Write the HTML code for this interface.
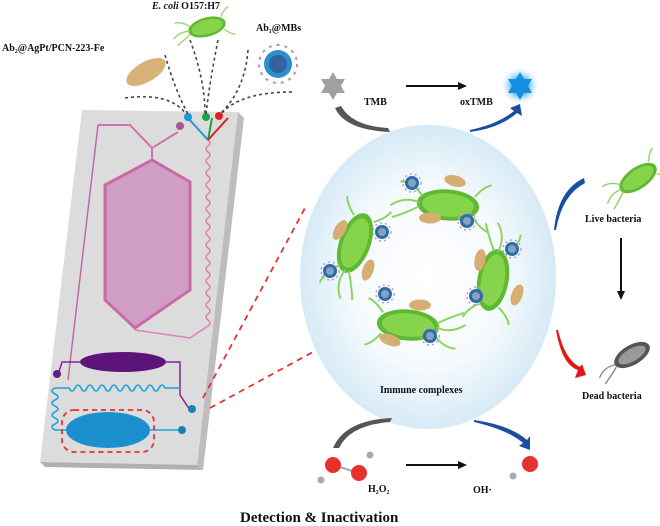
<!DOCTYPE html>
<html><head><style>
html,body{margin:0;padding:0;background:#fff;width:660px;height:526px;overflow:hidden}
text{font-family:"Liberation Serif",serif;font-weight:bold;fill:#111}
</style></head><body>
<svg width="660" height="526" viewBox="0 0 660 526" xmlns="http://www.w3.org/2000/svg">
<defs>
<radialGradient id="bub" cx="50%" cy="50%" r="50%">
<stop offset="0" stop-color="#fff"/><stop offset="0.6" stop-color="#f5fafd"/><stop offset="1" stop-color="#d6eaf6"/>
</radialGradient>
<radialGradient id="glow"><stop offset="0.4" stop-color="#5ab8f5"/><stop offset="1" stop-color="#fff" stop-opacity="0"/></radialGradient>
<g id="bac"><ellipse rx="24" ry="12" fill="#5fb834"/><ellipse rx="20" ry="9" fill="#85d44c"/>
<path d="M-22,0 q-12,-4 -22,4 M-22,3 q-10,6 -20,10 M-20,-5 q-8,-10 -18,-10 M20,-8 q6,-8 12,-10 M20,8 q6,8 12,10" stroke="#8bd45a" stroke-width="1.5" fill="none"/></g>
<g id="mb"><circle r="7" fill="#2a6fa8"/><circle r="4" fill="#8aa0c0"/><circle r="9" fill="none" stroke="#c59ad0" stroke-width="1.5" stroke-dasharray="2 3"/></g>
<g id="nz"><ellipse rx="11" ry="5.5" fill="#d6ae73"/></g>
</defs>

<!-- chip -->
<polygon points="82,110 238,112 197,465 40,462" fill="#dcdcdc"/>
<polygon points="238,112 244,118 203,470 197,465" fill="#bdbdbd"/>
<polygon points="40,462 197,465 203,470 45,467" fill="#b0b0b0"/>

<!-- pink channels -->
<path d="M98,125 L130,125 L152,148 L178,132 M152,148 L152,160" fill="none" stroke="#d272ad" stroke-width="2"/>
<polygon points="105,185 152,160 190,182 190,290 135,328 105,300" fill="#d09ec4" stroke="#c96aa6" stroke-width="3"/>
<path d="M98,125 L68,380" stroke="#c268a8" stroke-width="1.5" fill="none"/>
<path d="M208,140 q4,3 0,6 q-4,3 0,6 q4,3 0,6 q-4,3 0,6 q4,3 0,6 q-4,3 0,6 q4,3 0,6 q-4,3 0,6 q4,3 0,6 q-4,3 0,6 q4,3 0,6 q-4,3 0,6 q4,3 0,6 q-4,3 0,6 q4,3 0,6 q-4,3 0,6 q4,3 0,6 q-4,3 0,6 q4,3 0,6 q-4,3 0,6 q4,3 0,6 q-4,3 0,6 q4,3 0,6 q-4,3 0,6 q4,3 0,6 q-4,3 0,6 q4,3 0,6 q-4,3 0,6 q4,3 0,6 q-4,3 0,6 q4,3 0,6 L190,338 L135,330" stroke="#e07fba" stroke-width="1.5" fill="none"/>
<circle cx="180" cy="126" r="4" fill="#a8559a"/>
<!-- inlets -->
<path d="M188,118 L208,140" stroke-width="2" fill="none" stroke="#1b9ad6"/>
<path d="M208,140 L212,118" stroke="#16a34a" stroke-width="2"/><path d="M208,140 L228,118" stroke="#e02020" stroke-width="2"/>
<circle cx="188" cy="117" r="4" fill="#1b9ad6"/><circle cx="206" cy="117" r="4" fill="#16a34a"/><circle cx="219" cy="116" r="4" fill="#e02020"/>
<g stroke="#444" stroke-width="1.6" stroke-dasharray="3 3" fill="none">
<path d="M125,98 Q170,92 186,114"/><path d="M165,55 Q175,90 188,114"/><path d="M190,40 Q205,80 205,114"/><path d="M218,40 Q210,80 206,114"/><path d="M248,50 Q245,90 220,114"/><path d="M292,92 Q240,92 221,114"/>
</g>
<!-- purple chamber -->
<path d="M58,375 L62,362 L80,362 M166,362 L180,362 L180,395 L190,410" stroke="#7a2a8f" stroke-width="1.5" fill="none"/>
<ellipse cx="123" cy="362" rx="43" ry="10" fill="#5c137a"/>
<circle cx="57" cy="374" r="4" fill="#6a1c86"/>
<!-- blue channels -->
<path d="M180,388 L165,388 q-3,-6 -6,0 q-3,6 -6,0 q-3,-6 -6,0 q-3,6 -6,0 q-3,-6 -6,0 q-3,6 -6,0 q-3,-6 -6,0 q-3,6 -6,0 q-3,-6 -6,0 q-3,6 -6,0 q-3,-6 -6,0 q-3,6 -6,0 q-3,-6 -6,0 q-3,6 -6,0 q-3,-6 -6,0 q-3,6 -6,0 L55,388 q-6,3 0,6 q6,3 0,6 q-6,3 0,6 q6,3 0,6 q-6,3 0,6 q6,3 0,6 q-6,3 0,6 L66,430 M150,430 L180,430" stroke="#1ea2e0" stroke-width="1.6" fill="none"/>
<ellipse cx="108" cy="430" rx="42" ry="18" fill="#1c8fcf"/>
<rect x="62" y="410" width="92" height="42" rx="12" fill="none" stroke="#e5312f" stroke-width="1.8" stroke-dasharray="5 4"/>
<circle cx="192" cy="409" r="4" fill="#1a7fb8"/><circle cx="182" cy="430" r="4" fill="#1a7fb8"/>
<path d="M203,398 L305,208 M210,408 L313,352" stroke="#e5312f" stroke-width="1.8" stroke-dasharray="6 5" fill="none"/>

<!-- top particles -->
<g transform="translate(146,72) rotate(-30)"><ellipse rx="22" ry="10" fill="#d9b27a"/></g>
<g transform="translate(207,27) rotate(-15)"><use href="#bac" transform="scale(0.8)"/></g>
<circle cx="278" cy="64" r="14" fill="#2b8fc8"/><circle cx="278" cy="64" r="9" fill="#3462a0"/>
<circle cx="278" cy="64" r="19" fill="none" stroke="#b98ac8" stroke-width="2" stroke-dasharray="3 5"/>
<text x="2" y="51" font-size="10">Ab₂@AgPt/PCN-223-Fe</text>
<text x="152" y="9" font-size="10"><tspan font-style="italic">E. coli</tspan> O157:H7</text>
<text x="256" y="31" font-size="10">Ab₁@MBs</text>

<!-- bubble -->
<ellipse cx="428" cy="277" rx="128" ry="152" fill="url(#bub)"/>
<use href="#bac" transform="translate(448,205) rotate(5) scale(1.3)"/>
<use href="#bac" transform="translate(355,243) rotate(-70) scale(1.3)"/>
<use href="#bac" transform="translate(493,280) rotate(100) scale(1.3)"/>
<use href="#bac" transform="translate(408,325) rotate(185) scale(1.3)"/>
<use href="#nz" transform="translate(455,181) rotate(15)"/><use href="#nz" transform="translate(430,218)"/>
<use href="#nz" transform="translate(340,230) rotate(-60)"/><use href="#nz" transform="translate(368,270) rotate(-70)"/>
<use href="#nz" transform="translate(480,260) rotate(-80)"/><use href="#nz" transform="translate(517,295) rotate(-70)"/>
<use href="#nz" transform="translate(390,340) rotate(20)"/><use href="#nz" transform="translate(420,305)"/>
<use href="#mb" transform="translate(412,183)"/><use href="#mb" transform="translate(467,221)"/>
<use href="#mb" transform="translate(382,232)"/><use href="#mb" transform="translate(330,271)"/>
<use href="#mb" transform="translate(512,249)"/><use href="#mb" transform="translate(476,296)"/>
<use href="#mb" transform="translate(385,294)"/><use href="#mb" transform="translate(430,336)"/>
<text x="380" y="393" font-size="10">Immune complexes</text>

<!-- TMB -->
<polygon points="333,72 337,79 345,79 341,86 345,93 337,93 333,100 329,93 321,93 325,86 321,79 329,79" fill="#a0a0a0"/>
<circle cx="520" cy="86" r="20" fill="url(#glow)"/>
<polygon points="520,72 524,79 532,79 528,86 532,93 524,93 520,100 516,93 508,93 512,86 508,79 516,79" fill="#1590e0"/>
<path d="M406,86 L462,86" stroke="#111" stroke-width="2"/><polygon points="467,86 458,82 458,90" fill="#111"/>
<text x="364" y="105" font-size="10">TMB</text><text x="460" y="105" font-size="10">oxTMB</text>
<path d="M335,108 Q345,130 390,132 L388,128 Q352,126 341,106 Z" fill="#555"/>
<path d="M470,132 Q500,128 517,113 L522,116 L520,104 L510,108 L514,111 Q498,124 470,130 Z" fill="#1a4ea0"/>

<!-- H2O2 -->
<path d="M333,448 Q345,420 392,418 L390,422 Q350,425 339,448 Z" fill="#555"/>
<path d="M474,420 Q510,425 527,440 L530,436 L530,450 L519,446 L523,443 Q508,430 474,422 Z" fill="#1a4ea0"/>
<path d="M333,465 L359,473" stroke="#aaa" stroke-width="2"/>
<circle cx="333" cy="465" r="8" fill="#e5312f"/><circle cx="359" cy="473" r="8" fill="#e5312f"/>
<circle cx="370" cy="455" r="3.5" fill="#aaa"/><circle cx="321" cy="480" r="3.5" fill="#aaa"/>
<circle cx="530" cy="464" r="8" fill="#e5312f"/><circle cx="513" cy="476" r="3.5" fill="#aaa"/>
<path d="M406,465 L460,465" stroke="#111" stroke-width="2"/><polygon points="467,465 458,461 458,469" fill="#111"/>
<text x="368" y="492" font-size="10">H₂O₂</text><text x="473" y="493" font-size="10">OH·</text>
<text x="240" y="522" font-size="15">Detection &amp; Inactivation</text>

<!-- live/dead -->
<use href="#bac" transform="translate(638,178) rotate(-35) scale(0.9)"/>
<text x="585" y="222" font-size="10">Live bacteria</text>
<path d="M621,238 L621,293" stroke="#111" stroke-width="2"/><polygon points="621,300 617,291 625,291" fill="#111"/>
<g transform="translate(632,355) rotate(-30) scale(0.9)"><ellipse rx="22" ry="11" fill="#555"/><ellipse rx="17" ry="7" fill="#999"/>
<path d="M-22,0 q-12,-4 -22,4 M-22,3 q-10,6 -20,10" stroke="#888" stroke-width="1.5" fill="none"/></g>
<text x="582" y="399" font-size="10">Dead bacteria</text>
<path d="M556,230 Q562,195 585,183 L584,178 Q558,190 554,230 Z" fill="#1a4ea0"/>
<path d="M556,330 Q562,365 578,370 L575,378 L586,375 L582,364 L580,367 Q565,360 558,330 Z" fill="#e51515"/>
</svg>
</body></html>
